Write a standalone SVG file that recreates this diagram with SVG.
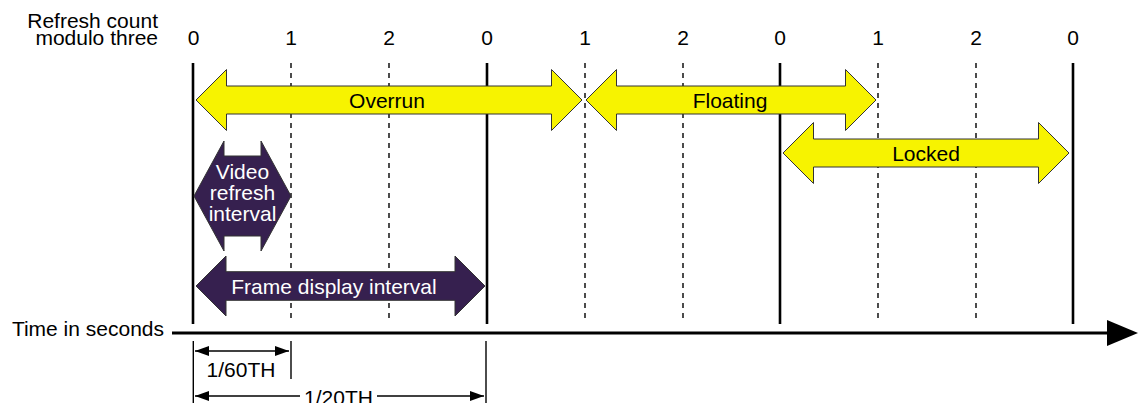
<svg xmlns="http://www.w3.org/2000/svg" width="1138" height="403" viewBox="0 0 1138 403">
<style>
text{font-family:"Liberation Sans",Arial,sans-serif;font-size:21px;fill:#000}
.w{fill:#fff}
.solid{stroke:#000;stroke-width:2.6;fill:none}
.dash{stroke:#000;stroke-width:1.4;stroke-dasharray:5 5;fill:none}
.yel{fill:#F7F300;stroke:#333;stroke-width:1}
.pur{fill:#36204F;stroke:#333;stroke-width:1}
.thin{stroke:#000;stroke-width:1.4;fill:none}
</style>
<defs>
<marker id="ah" viewBox="0 0 14 10" refX="14" refY="5" markerWidth="14" markerHeight="10" markerUnits="userSpaceOnUse" orient="auto-start-reverse">
<path d="M0,0 L14,5 L0,10 Z" fill="#000"/>
</marker>
</defs>
<g id="header">
<text x="158" y="28" text-anchor="end">Refresh count</text>
<text x="158" y="44.5" text-anchor="end">modulo three</text>
<g text-anchor="middle">
<text x="193.5" y="44.5">0</text>
<text x="291" y="44.5">1</text>
<text x="389" y="44.5">2</text>
<text x="487" y="44.5">0</text>
<text x="585" y="44.5">1</text>
<text x="683" y="44.5">2</text>
<text x="780" y="44.5">0</text>
<text x="878" y="44.5">1</text>
<text x="976" y="44.5">2</text>
<text x="1073" y="44.5">0</text>
</g>
</g>
<g id="gridlines">
<line class="solid" x1="193" y1="63" x2="193" y2="324"/>
<line class="dash" x1="291" y1="63" x2="291" y2="323"/>
<line class="dash" x1="389" y1="63" x2="389" y2="323"/>
<line class="solid" x1="487" y1="63" x2="487" y2="324"/>
<line class="dash" x1="585" y1="63" x2="585" y2="323"/>
<line class="dash" x1="683" y1="63" x2="683" y2="323"/>
<line class="solid" x1="780" y1="63" x2="780" y2="324"/>
<line class="dash" x1="878" y1="63" x2="878" y2="323"/>
<line class="dash" x1="976" y1="63" x2="976" y2="323"/>
<line class="solid" x1="1073" y1="63" x2="1073" y2="324"/>
</g>
<g id="axis">
<text x="164" y="336" text-anchor="end">Time in seconds</text>
<line x1="172" y1="333" x2="1108" y2="333" stroke="#000" stroke-width="3"/>
<polygon points="1107,320 1138,333 1107,346" fill="#000"/>
</g>
<g id="overrun">
<polygon class="yel" points="196,100 226.5,69.5 226.5,86 551.5,86 551.5,69.5 582,100 551.5,130.5 551.5,114 226.5,114 226.5,130.5"/>
<text x="387" y="107.5" text-anchor="middle">Overrun</text>
</g>
<g id="floating">
<polygon class="yel" points="586,100 616.5,69.5 616.5,86 845.5,86 845.5,69.5 876,100 845.5,130.5 845.5,114 616.5,114 616.5,130.5"/>
<text x="730" y="107.5" text-anchor="middle">Floating</text>
</g>
<g id="locked">
<polygon class="yel" points="783,153 813.5,122.5 813.5,139 1038.5,139 1038.5,122.5 1069,153 1038.5,183.5 1038.5,167 813.5,167 813.5,183.5"/>
<text x="926" y="160.5" text-anchor="middle">Locked</text>
</g>
<g id="video-refresh">
<polygon class="pur" points="194,196 224,141 224,156 261,156 261,141 291,196 261,251 261,236 224,236 224,251"/>
<text class="w" x="242.5" y="178.5" text-anchor="middle">Video</text>
<text class="w" x="242.5" y="199.5" text-anchor="middle">refresh</text>
<text class="w" x="242.5" y="220.5" text-anchor="middle">interval</text>
</g>
<g id="frame-display">
<polygon class="pur" points="196,286 226,256 226,271.7 455,271.7 455,256 485,286 455,316 455,300.3 226,300.3 226,316"/>
<text class="w" x="334" y="293.5" text-anchor="middle">Frame display interval</text>
</g>
<g id="dimensions">
<line class="thin" x1="193.3" y1="341" x2="193.3" y2="403"/>
<line class="thin" x1="291" y1="341" x2="291" y2="379"/>
<line class="thin" x1="486" y1="341" x2="486" y2="403"/>
<line class="thin" x1="195" y1="351" x2="289" y2="351" marker-start="url(#ah)" marker-end="url(#ah)"/>
<text x="241" y="376.5" text-anchor="middle">1/60TH</text>
<line class="thin" x1="195" y1="396" x2="300" y2="396" marker-start="url(#ah)"/>
<line class="thin" x1="377" y1="396" x2="484" y2="396" marker-end="url(#ah)"/>
<text x="338.5" y="405" text-anchor="middle">1/20TH</text>
</g>
</svg>
